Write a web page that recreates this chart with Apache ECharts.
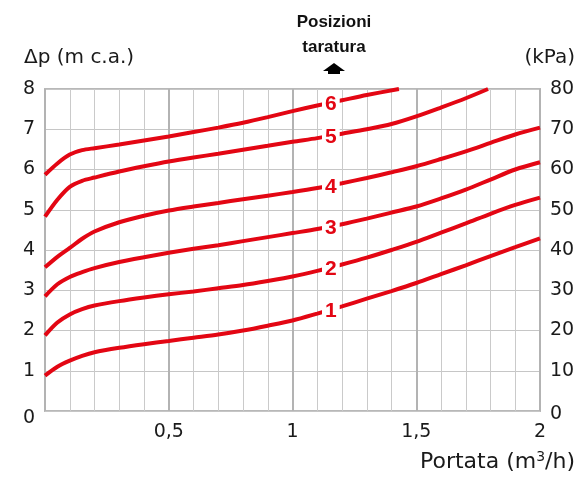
<!DOCTYPE html>
<html><head><meta charset="utf-8">
<script src="https://cdn.jsdelivr.net/npm/echarts@6/dist/echarts.min.js"></script>
<style>html,body{margin:0;padding:0;background:#fff}#c{width:579px;height:477px}</style>
</head><body><div id="c"></div>
<script>
// Portata (m3/h) sample points
const flow  = [0,0.05,0.1,0.15,0.2,0.3,0.4,0.5,0.6,0.7,0.8,0.9,1.0,1.1,1.2,1.3,1.4,1.5,1.6,1.7,1.8,1.9,2.0];
const flow5 = [0,0.05,0.1,0.15,0.2,0.3,0.4,0.5,0.6,0.7,0.8,0.9,1.0,1.1,1.2,1.3,1.4,1.5,1.6,1.7,1.79];
const flow6 = [0,0.05,0.1,0.15,0.2,0.3,0.4,0.5,0.6,0.7,0.8,0.9,1.0,1.1,1.2,1.3,1.43];
// Δp (m c.a.) per posizione di taratura
const pos1 = [0.88,1.1,1.25,1.37,1.46,1.57,1.66,1.74,1.82,1.9,2.0,2.12,2.25,2.42,2.6,2.79,2.98,3.18,3.4,3.62,3.85,4.07,4.29];
const pos2 = [1.88,2.2,2.4,2.53,2.62,2.73,2.82,2.9,2.97,3.05,3.13,3.23,3.34,3.48,3.64,3.81,4.0,4.2,4.43,4.66,4.9,5.12,5.3];
const pos3 = [2.85,3.15,3.33,3.45,3.55,3.7,3.82,3.93,4.03,4.12,4.22,4.32,4.42,4.52,4.64,4.78,4.93,5.08,5.28,5.5,5.75,6.0,6.18];
const pos4 = [3.57,3.83,4.05,4.28,4.46,4.69,4.85,4.98,5.08,5.17,5.26,5.35,5.44,5.54,5.66,5.79,5.93,6.08,6.26,6.45,6.66,6.87,7.04];
const pos5 = [4.83,5.25,5.57,5.72,5.8,5.95,6.08,6.2,6.3,6.39,6.49,6.59,6.69,6.78,6.89,7.0,7.13,7.32,7.54,7.77,8.0];
const pos6 = [5.87,6.15,6.37,6.48,6.53,6.62,6.72,6.82,6.93,7.04,7.16,7.3,7.45,7.59,7.72,7.85,8.0];
const positionNames = ['1','2','3','4','5','6'];
const labelFlow = 1.155;
const xTickLabels = {0.5:'0,5', 1:'1', 1.5:'1,5', 2:'2'};
const yLabelLeft = 'Δp (m c.a.)';
const yLabelRight = '(kPa)';
const xLabelRich = 'Portata (m{sup|3}/h)';
const topTitle = 'Posizioni\ntaratura';

const curves = [[flow,pos1],[flow,pos2],[flow,pos3],[flow,pos4],[flow5,pos5],[flow6,pos6]];
function interp(xs, ys, x){
  for (let i=0;i<xs.length-1;i++){
    if (x>=xs[i] && x<=xs[i+1]){ const t=(x-xs[i])/(xs[i+1]-xs[i]); return ys[i]+t*(ys[i+1]-ys[i]); }
  }
  return ys[ys.length-1];
}
const RED = '#e30613';
const FONT = 'DejaVu Sans';
const TXT = '#1a1a1a';

const series = curves.map(([xs,ys],i)=>({
  name: positionNames[i], type:'line', xAxisIndex:0, yAxisIndex:0,
  data: xs.map((x,k)=>[x,ys[k]]), showSymbol:false, smooth:0.3,
  lineStyle:{color:RED, width:4}, z:3, silent:true
}));
series.push({
  type:'scatter', xAxisIndex:0, yAxisIndex:0, symbol:'rect', symbolSize:1, z:6, silent:true,
  itemStyle:{color:'#ffffff'},
  data: curves.map(([xs,ys],i)=>[labelFlow, interp(xs,ys,labelFlow), positionNames[i]]),
  label:{show:true, position:'inside', offset:[0,2], formatter:p=>p.value[2], color:RED, fontWeight:'bold', opacity:1,
    textBorderWidth:0, fontSize:21, fontFamily:'Liberation Sans', backgroundColor:'#ffffff', padding:[1,3,0,3], lineHeight:21}
});

const chart = echarts.init(document.getElementById('c'), null, {renderer:'canvas'});
chart.setOption({
  animation:false,
  grid:{left:45, right:39, top:89, bottom:66, show:true, borderColor:'#b8b8b8', borderWidth:2, backgroundColor:'transparent'},
  xAxis:[
    {type:'value', min:0, max:2, interval:0.1, position:'bottom',
     axisLine:{show:false}, axisTick:{show:false},
     axisLabel:{margin:12, fontSize:19, fontFamily:FONT, color:TXT,
       formatter:v=>{ const k=Math.round(v*2)/2; return (Math.abs(v-k)<1e-6 && xTickLabels[k]) ? xTickLabels[k] : ''; }},
     splitLine:{show:true, lineStyle:{color:'#cacaca', width:1}}},
    {type:'value', min:0, max:2, interval:0.5, position:'top',
     axisLine:{show:false}, axisTick:{show:false}, axisLabel:{show:false},
     splitLine:{show:true, lineStyle:{color:'#b3b3b3', width:2}}}
  ],
  yAxis:[
    {type:'value', min:0, max:8, interval:1, position:'left',
     axisLine:{show:false}, axisTick:{show:false},
     axisLabel:{margin:10, fontSize:19, fontFamily:FONT, color:TXT,
       formatter:v=> v===0 ? '{z|0}' : String(v),
       rich:{z:{fontSize:19, fontFamily:FONT, color:TXT, padding:[14,0,0,0]}}},
     splitLine:{show:true, lineStyle:{color:'#c6c6c6', width:1}}},
    {type:'value', min:0, max:80, interval:10, position:'right',
     axisLine:{show:false}, axisTick:{show:false},
     axisLabel:{margin:10, fontSize:19, fontFamily:FONT, color:TXT,
       formatter:v=> v===0 ? '{z|0}' : String(v),
       rich:{z:{fontSize:19, fontFamily:FONT, color:TXT, padding:[6,0,0,0]}}},
     splitLine:{show:false}}
  ],
  graphic:[
    {type:'text', left:24, top:48, style:{text:yLabelLeft, fill:TXT, font:'20px "'+FONT+'"'}},
    {type:'text', right:4, top:48, style:{text:yLabelRight, fill:TXT, font:'20px "'+FONT+'"'}},
    {type:'text', right:4, top:450, style:{text:xLabelRich, fill:TXT, font:'22px "'+FONT+'"',
       rich:{sup:{fontSize:14, fontFamily:FONT, fill:TXT, verticalAlign:'top', padding:[0,0,10,0]}}}},
    {type:'text', x:334, y:10, style:{text:topTitle, fill:'#111', font:'bold 17px "Liberation Sans"', align:'center', verticalAlign:'top', lineHeight:25}},
    {type:'polygon', shape:{points:[[323,71],[334,63],[345,71],[340,71],[340,74],[328,74],[328,71]]}, style:{fill:'#000'}}
  ],
  series
});
</script></body></html>
